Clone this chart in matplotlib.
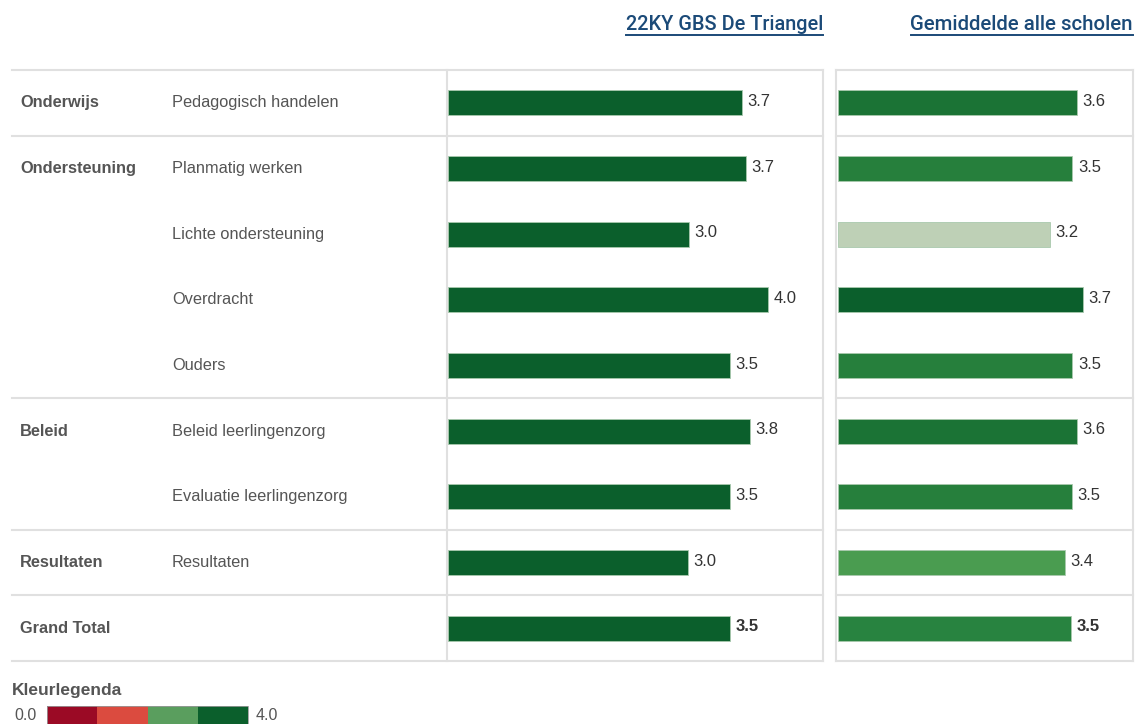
import matplotlib
matplotlib.use("Agg")
import matplotlib.pyplot as plt
from matplotlib.lines import Line2D
from matplotlib.patches import Rectangle

# ---------------- data ----------------
categories = ["Onderwijs", "Ondersteuning", "", "", "", "Beleid", "", "Resultaten", "Grand Total"]
subcategories = ["Pedagogisch handelen", "Planmatig werken", "Lichte ondersteuning", "Overdracht",
                 "Ouders", "Beleid leerlingenzorg", "Evaluatie leerlingenzorg", "Resultaten", ""]
school_values = [3.67, 3.72, 3.01, 4.00, 3.52, 3.77, 3.52, 3.00, 3.52]
average_values = [3.61, 3.54, 3.20, 3.70, 3.54, 3.61, 3.53, 3.43, 3.52]
school_colors = ["#0b5f2c"] * 9
average_colors = ["#1b7335", "#267f3c", "#bed0b6", "#0b5f2c", "#267f3c",
                  "#1b7335", "#267f3c", "#4a9c50", "#288340"]
group_breaks = [1, 5, 7, 8]  # row indices where a new group starts
headers = ["22KY GBS De Triangel", "Gemiddelde alle scholen"]
legend_title = "Kleurlegenda"
legend_colors = ["#9b0a25", "#db4b3f", "#5a9e5e", "#0b5f2c"]
legend_min, legend_max = "0.0", "4.0"

W, H = 1136, 724
fig = plt.figure(figsize=(W / 100, H / 100), dpi=100)
fig.patch.set_facecolor("white")

# background axes in pixel coordinates
bg = fig.add_axes([0, 0, 1, 1])
bg.set_xlim(0, W)
bg.set_ylim(H, 0)
bg.axis("off")

n = len(subcategories)
top, bottom = 70, 661
row_h = (bottom - top) / n
line_c = "#e0e0e0"
lw = 1.5

def row_y(i):
    return top + (i + 0.5) * row_h

# table lines
for yy in [top, bottom] + [top + b * row_h for b in group_breaks]:
    bg.add_line(Line2D([12, 823], [yy, yy], color=line_c, lw=lw))
    bg.add_line(Line2D([836, 1133], [yy, yy], color=line_c, lw=lw))
for xx in [447, 823, 836, 1133]:
    bg.add_line(Line2D([xx, xx], [top, bottom], color=line_c, lw=lw))

text_c = "#555555"
font = "Liberation Sans"
lab_fs = 11.8
for i in range(n):
    y = row_y(i)
    if categories[i]:
        bg.text(20, y, categories[i], fontsize=lab_fs, fontweight="bold", color=text_c,
                va="center", ha="left", family=font)
    if subcategories[i]:
        bg.text(172, y, subcategories[i], fontsize=lab_fs, color=text_c,
                va="center", ha="left", family=font)

def px_axes(x0, x1):
    return fig.add_axes([x0 / W, 1 - bottom / H, (x1 - x0) / W, (bottom - top) / H])

ax1 = px_axes(448, 822)
ax2 = px_axes(838, 1132)
for ax, vals, cols, xmax in [(ax1, school_values, school_colors, 374 / 80),
                             (ax2, average_values, average_colors, 294 / 66.2)]:
    ax.set_xlim(0, xmax)
    ax.set_ylim(n - 0.5, -0.5)
    ax.axis("off")
    ax.patch.set_alpha(0)
    ys = list(range(n))
    ax.barh(ys, vals, height=0.38, color=cols, edgecolor="#a9c9ad", linewidth=0.6)
    for i, v in enumerate(vals):
        ax.annotate(f"{v:.1f}", (v, i), xytext=(4, 1), textcoords="offset points",
                    va="center", ha="left", fontsize=12, color="#333333", family=font,
                    fontweight="bold" if i == n - 1 else "normal")

# headers (fit to the reference widths)
header_c = "#1b4a78"
hdr = []
for txt, xr, target in zip(headers, [823, 1133], [197, 224]):
    t = bg.text(xr, 25, txt, fontsize=14, fontweight="medium", color=header_c,
                ha="right", va="center", family=["Roboto", "DejaVu Sans"])
    fig.canvas.draw()
    wpx = t.get_window_extent().width
    t.set_fontsize(14 * target / wpx)
    hdr.append(t)
fig.canvas.draw()
inv = bg.transData.inverted()
for t in hdr:
    bb = t.get_window_extent()
    (x0, y0), (x1, y1) = inv.transform([(bb.x0, bb.y0), (bb.x1, bb.y1)])
    bg.add_line(Line2D([x0, x1], [35, 35], color=header_c, lw=1.4))

# colour legend
bg.text(12, 690, legend_title, fontsize=12.5, fontweight="bold", color=text_c,
        va="center", ha="left", family=font)
bg.text(14, 715, legend_min, fontsize=11.5, color=text_c, va="center", ha="left", family=font)
seg_w = 50.25
for k, c in enumerate(legend_colors):
    bg.add_patch(Rectangle((47 + k * seg_w, 706), seg_w, 20, facecolor=c, edgecolor="none"))
bg.add_patch(Rectangle((47, 706), 4 * seg_w, 20, facecolor="none", edgecolor="#999999", lw=0.6))
bg.text(256, 715, legend_max, fontsize=11.5, color=text_c, va="center", ha="left", family=font)

fig.savefig("out.png", dpi=100, facecolor="white")
